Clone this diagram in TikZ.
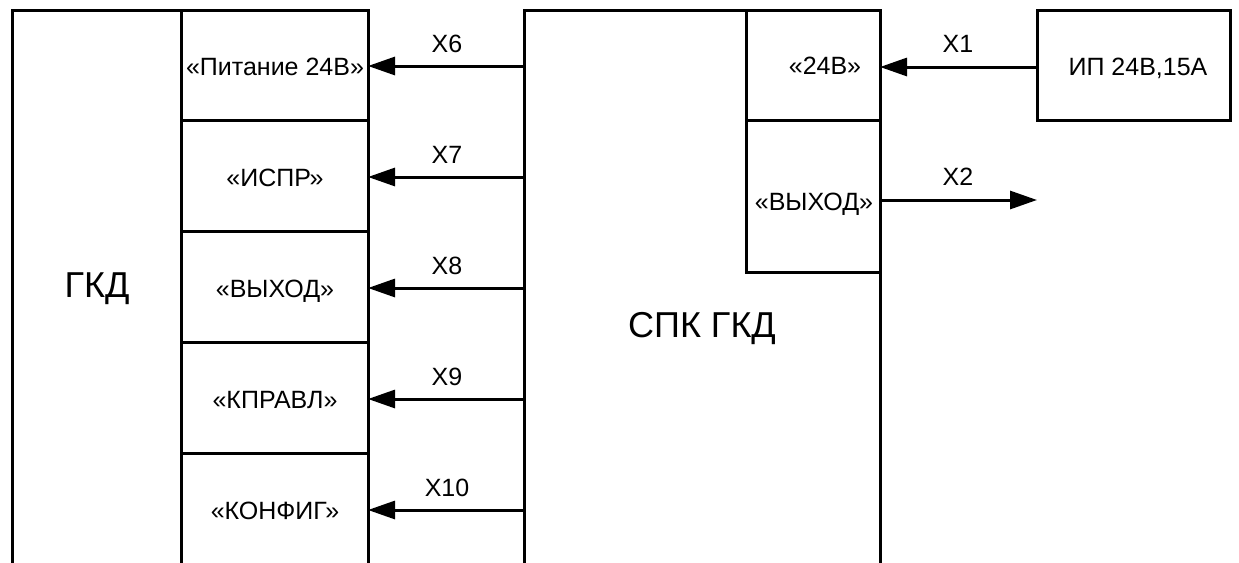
\documentclass[tikz,border=0pt]{standalone}
\usepackage{fontspec}
\setmainfont{Liberation Sans}
\usetikzlibrary{arrows.meta}
\begin{document}
\begin{tikzpicture}[x=1pt,y=-1pt,
  ln/.style={line width=3pt, line cap=rect},
  arr/.style={line width=3pt, -{Triangle[length=27pt,width=18pt]}},
  lbl/.style={font=\fontsize{25}{28}\selectfont, inner sep=0pt, anchor=base},
  big/.style={font=\fontsize{36}{40}\selectfont, inner sep=0pt, anchor=base}]
\useasboundingbox (0,0) rectangle (1239,562);
% GKD outline
\draw[ln] (12,562) -- (12,10) -- (368,10) -- (368,562);
\draw[ln] (181,10) -- (181,562);
\foreach \y in {120,231,342,453} \draw[ln] (181,\y) -- (368,\y);
\node[big] (gkd) at (97,297) {ГКД};
\node[lbl] (r1) at (275,75) {«Питание 24В»};
\node[lbl] (r2) at (275,186) {«ИСПР»};
\node[lbl] (r3) at (275,297) {«ВЫХОД»};
\node[lbl] (r4) at (275,408) {«КПРАВЛ»};
\node[lbl] (r5) at (275,519) {«КОНФИГ»};
\foreach \i/\y in {1/66,2/177,3/288,4/399,5/510} {
  \coordinate (g\i) at (368,\y);
  \coordinate (s\i) at (524,\y);
}
% SPK outline
\draw[ln] (524,562) -- (524,10) -- (880,10) -- (880,562);
\draw[ln] (746,10) -- (746,272) -- (880,272);
\draw[ln] (746,120) -- (880,120);
\node[big] (spk) at (702,337) {СПК ГКД};
\node[lbl] (v24) at (825,74) {«24В»};
\node[lbl] (vout) at (814,210) {«ВЫХОД»};
\coordinate (v24e) at (880,67);
\coordinate (voute) at (880,200);
\coordinate (x2end) at (1037,200);
\node[draw, line width=3pt, minimum width=193pt, minimum height=110pt, inner sep=0pt] (ip) at (1133.5,65) {};
\node[lbl] (iplbl) at (1138,75) {ИП 24В,15А};
% arrows
\foreach \i in {1,...,5} \draw[arr] (s\i) -- (g\i);
\draw[arr] (ip.west |- v24e) -- (v24e);
\draw[arr] (voute) -- (x2end);
% labels
\node[lbl] at (447,52) {X6};
\node[lbl] at (447,163) {X7};
\node[lbl] at (447,274) {X8};
\node[lbl] at (447,385) {X9};
\node[lbl] at (447,496) {X10};
\node[lbl] at (958,52) {X1};
\node[lbl] at (958,185) {X2};
\end{tikzpicture}
\end{document}
